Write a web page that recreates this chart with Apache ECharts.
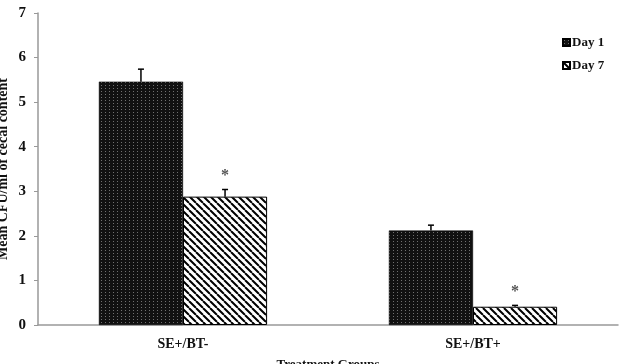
<!DOCTYPE html>
<html>
<head>
<meta charset="utf-8">
<script src="https://cdn.jsdelivr.net/npm/echarts@6/dist/echarts.min.js"></script>
<style>
  html, body { margin: 0; padding: 0; background: #fff; }
  #chart { width: 624px; height: 364px; }
</style>
</head>
<body>
<div id="chart"></div>
<script>
const groups = ['SE+/BT-', 'SE+/BT+']
const day1 = [5.46, 2.12]
const day1Err = [0.28, 0.12]
const day7 = [2.88, 0.41]
const day7Err = [0.16, 0.03]
const day7Mark = ['*', '*']
const yTicks = [0, 1, 2, 3, 4, 5, 6, 7]

// dark dotted fill for Day 1
function dotPattern() {
  const c = document.createElement('canvas')
  c.width = 4
  c.height = 3
  const ctx = c.getContext('2d')
  ctx.fillStyle = '#111'
  ctx.fillRect(0, 0, 4, 3)
  ctx.fillStyle = '#707070'
  ctx.fillRect(1, 1, 1, 1)
  return c
}

// diagonal hatch for Day 7
function hatchPattern() {
  const c = document.createElement('canvas')
  c.width = 7
  c.height = 7
  const ctx = c.getContext('2d')
  ctx.fillStyle = '#fff'
  ctx.fillRect(0, 0, 7, 7)
  ctx.strokeStyle = '#000'
  ctx.lineWidth = 2
  ctx.beginPath()
  ;[-7, 0, 7].forEach(x0 => {
    ctx.moveTo(x0, 0)
    ctx.lineTo(x0 + 7, 7)
  })
  ctx.stroke()
  return c
}

const day1Fill = { image: dotPattern(), repeat: 'repeat' }
const day7Fill = { image: hatchPattern(), repeat: 'repeat' }

const font = '"Liberation Serif", "Times New Roman", serif'

function errorSeries(name, vals, errs, marks, side) {
  return {
    name: name,
    type: 'custom',
    silent: true,
    z: 5,
    data: vals.map((v, i) => [i, v, errs[i]]),
    renderItem(params, api) {
      const cat = api.value(0)
      const v = api.value(1)
      const e = api.value(2)
      const base = api.coord([cat, v])
      const top = api.coord([cat, v + e])
      const band = api.size([1, 0])[0]
      const x = base[0] + side * band * 0.145
      const children = [
        { type: 'line', shape: { x1: x, y1: base[1], x2: x, y2: top[1] }, style: { stroke: '#000', lineWidth: 1.5 } },
        { type: 'line', shape: { x1: x - 3, y1: top[1], x2: x + 3, y2: top[1] }, style: { stroke: '#000', lineWidth: 1.5 } }
      ]
      const mark = marks ? marks[params.dataIndex] : ''
      if (mark) {
        children.push({
          type: 'text',
          style: {
            text: mark, x: x, y: top[1] - 14,
            align: 'center', verticalAlign: 'middle',
            font: 'bold 16px ' + font, fill: '#555'
          }
        })
      }
      return { type: 'group', children: children }
    }
  }
}

const chart = echarts.init(document.getElementById('chart'))
chart.setOption({
  animation: false,
  grid: { left: 38, right: 6, top: 13, bottom: 39, outerBoundsMode: 'none' },
  legend: {
    orient: 'vertical',
    left: 557,
    top: 31,
    itemWidth: 7,
    itemHeight: 7,
    itemGap: 10,
    icon: 'rect',
    data: ['Day 1', 'Day 7'],
    textStyle: { fontFamily: font, fontWeight: 'bold', fontSize: 13, color: '#111', padding: [0, 0, 0, -3] }
  },
  xAxis: {
    type: 'category',
    data: groups,
    name: 'Treatment Groups',
    nameLocation: 'middle',
    nameGap: 33,
    nameMoveOverlap: false,
    nameTextStyle: { fontFamily: font, fontWeight: 'bold', fontSize: 13, color: '#111' },
    axisLine: { lineStyle: { color: '#999', width: 1.5 } },
    axisTick: { lineStyle: { color: '#999' }, length: 4 },
    axisLabel: { fontFamily: font, fontWeight: 'bold', fontSize: 14, color: '#111', margin: 12 }
  },
  yAxis: {
    type: 'value',
    min: 0,
    max: 7,
    interval: 1,
    name: 'Mean CFU/ml of cecal content',
    nameLocation: 'middle',
    nameGap: 28,
    nameMoveOverlap: false,
    nameTextStyle: { fontFamily: font, fontWeight: 'bold', fontSize: 14, color: '#111' },
    axisLine: { show: true, lineStyle: { color: '#999', width: 1.5 } },
    axisTick: { show: true, lineStyle: { color: '#999' }, length: 4 },
    splitLine: { show: false },
    axisLabel: {
      fontFamily: font, fontWeight: 'bold', fontSize: 15, color: '#111', margin: 12,
      formatter: v => (yTicks.includes(v) ? String(v) : '')
    }
  },
  series: [
    {
      name: 'Day 1',
      type: 'bar',
      data: day1,
      barGap: '0%',
      barCategoryGap: '42%',
      itemStyle: { color: day1Fill, borderColor: '#000', borderWidth: 0.5 }
    },
    {
      name: 'Day 7',
      type: 'bar',
      data: day7,
      itemStyle: { color: day7Fill, borderColor: '#000', borderWidth: 1 }
    },
    errorSeries('err1', day1, day1Err, null, -1),
    errorSeries('err7', day7, day7Err, day7Mark, 1)
  ]
})
</script>
</body>
</html>
